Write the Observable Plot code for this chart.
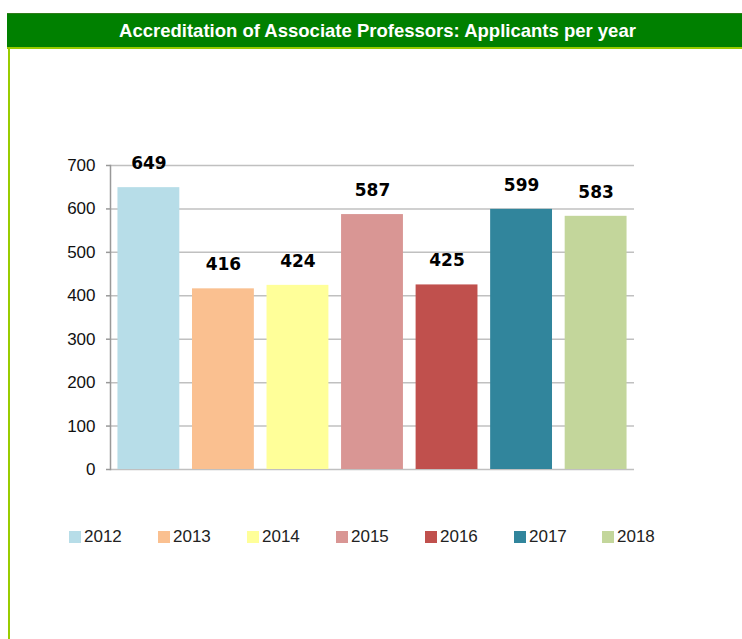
<!DOCTYPE html>
<html>
<head>
<meta charset="utf-8">
<script src="https://cdn.jsdelivr.net/npm/d3@7"></script>
<script src="https://cdn.jsdelivr.net/npm/@observablehq/plot@0.6"></script>
<style>
  html, body { margin: 0; padding: 0; background: #fff; }
  #wrap { position: relative; width: 742px; height: 639px; overflow: hidden; }
  #title {
    position: absolute; left: 7px; top: 13px; width: 735px; height: 33px;
    background: #008000; border-top: 1px solid #2e7d1a; border-bottom: 2px solid #99cc00;
    color: #fff; font-family: "Liberation Sans", Arial, sans-serif; font-weight: bold;
    font-size: 18.5px; line-height: 33px; text-align: center; box-sizing: content-box;
  }
  #title span { position: relative; left: 3px; }
  #leftborder { position: absolute; left: 8px; top: 48px; width: 2px; height: 591px; background: #99cc00; }
  #chart { position: absolute; left: 0; top: 48px; }
  #legend { position: absolute; left: 0; top: 525px; width: 742px; height: 24px;
    font-family: "Liberation Sans", Arial, sans-serif; font-size: 17px; color: #222; }
  .item { position: absolute; top: 0; display: flex; align-items: center; height: 24px; }
  .sw { width: 12px; height: 12px; margin-right: 3px; }
</style>
</head>
<body>
<div id="wrap">
  <div id="title"><span>Accreditation of Associate Professors: Applicants per year</span></div>
  <div id="leftborder"></div>
  <div id="chart"></div>
  <div id="legend"></div>
</div>
<script>
const years = ["2012", "2013", "2014", "2015", "2016", "2017", "2018"];
const applicants = [649, 416, 424, 587, 425, 599, 583];
const colors = ["#b7dde8", "#fac090", "#ffff99", "#d99694", "#c0504d", "#31859c", "#c3d69b"];
const yTicks = [0, 100, 200, 300, 400, 500, 600, 700];

const data = years.map((y, i) => ({year: y, value: applicants[i]}));

const chart = Plot.plot({
  width: 742,
  height: 450,
  marginTop: 117,
  marginBottom: 29,
  marginLeft: 110,
  marginRight: 108,
  style: {background: "transparent", fontFamily: "Liberation Sans, Arial, sans-serif"},
  x: {domain: years, axis: null, paddingInner: 0.17, paddingOuter: 0.1, round: false},
  y: {domain: [0, 700], ticks: yTicks},
  color: {domain: years, range: colors},
  marks: [
    Plot.gridY(yTicks, {stroke: "#c0c0c0", strokeOpacity: 1, strokeWidth: 1.5}),
    Plot.axisY(yTicks, {tickSize: 4, tickPadding: 11, fontSize: 17, fill: "#111", stroke: "#999", strokeWidth: 1.5, label: null}),
    Plot.barY(data, {x: "year", y: "value", fill: "year"}),
    Plot.frame({anchor: "left", stroke: "#999", strokeWidth: 1.5}),
    Plot.text(data, {x: "year", y: "value", text: d => String(d.value), dy: -24,
      fontSize: 17, fontWeight: "bold", fontFamily: "DejaVu Sans", fill: "#000"})
  ]
});
document.getElementById("chart").appendChild(chart);

const legend = document.getElementById("legend");
const lx = [69, 158, 247, 336, 425, 514, 602];
years.forEach((y, i) => {
  const it = document.createElement("div");
  it.className = "item";
  it.style.left = lx[i] + "px";
  const sw = document.createElement("div");
  sw.className = "sw";
  sw.style.background = colors[i];
  const t = document.createElement("span");
  t.textContent = y;
  it.appendChild(sw); it.appendChild(t);
  legend.appendChild(it);
});
</script>
</body>
</html>
